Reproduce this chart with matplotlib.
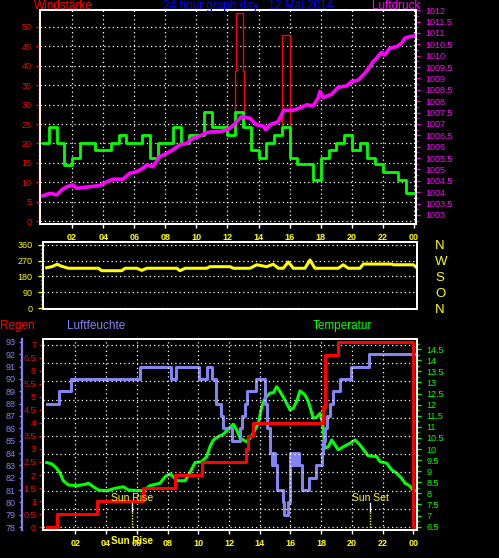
import matplotlib
matplotlib.use('Agg')
import matplotlib.pyplot as plt
import matplotlib.transforms as mtransforms
from matplotlib.ticker import MultipleLocator, FormatStrFormatter
import numpy as np

# ---------------- data ----------------
hour_ticks = [2, 4, 6, 8, 10, 12, 14, 16, 18, 20, 22, 24]
hour_labels = ['02', '04', '06', '08', '10', '12', '14', '16', '18', '20', '22', '00']

# wind (green, step) and gust (red, step)
wind_t = [0.1, 0.5, 1.0, 1.5, 2.0, 2.5, 3.5, 4.5, 5.0, 5.5, 6.5, 7.0, 7.5, 8.5, 9.0, 9.5,
          10.5, 11.0, 12.0, 12.5, 13.0, 13.5, 14.0, 14.5, 15.0, 15.5, 16.0, 16.5, 17.5,
          18.0, 18.5, 19.0, 19.5, 20.0, 20.5, 21.0, 21.5, 22.0, 23.0, 23.5, 24.05]
wind_v = [20.2, 24.1, 20.2, 14.5, 16.3, 20.2, 18.3, 20.2, 22.2, 20.2, 22.2, 16.3, 20.2, 24.1,
          20.2, 22.2, 28.0, 24.1, 22.2, 28.0, 24.1, 18.3, 16.3, 20.2, 22.2, 24.1, 16.3, 14.6,
          10.6, 16.3, 18.3, 20.2, 22.2, 18.3, 20.2, 16.3, 14.6, 12.7, 10.6, 7.1, 7.1]
gust_t = [0.1, 0.5, 1.0, 1.5, 2.0, 2.5, 3.5, 4.5, 5.0, 5.5, 6.5, 7.0, 7.5, 8.5, 9.0, 9.5,
          10.5, 11.0, 12.0, 12.47, 12.53, 13.0, 13.07, 13.5, 14.0, 14.5, 15.0, 15.5, 16.05,
          16.5, 17.5, 18.0, 18.5, 19.0, 19.5, 20.0, 20.5, 21.0, 21.5, 22.0, 23.0, 23.5, 24.05]
gust_v = [20.2, 24.1, 20.2, 14.5, 16.3, 20.2, 18.3, 20.2, 22.2, 20.2, 22.2, 16.3, 20.2, 24.1,
          20.2, 22.2, 28.0, 24.1, 22.2, 38.7, 53.5, 38.7, 24.1, 18.3, 16.3, 20.2, 22.2, 48.0,
          16.3, 14.6, 10.6, 16.3, 18.3, 20.2, 22.2, 18.3, 20.2, 16.3, 14.6, 12.7, 10.6, 7.1, 7.1]

# pressure (magenta)
p_t = [0.12, 0.57, 1.02, 1.34, 1.66, 2.05, 2.30, 3.14, 3.78, 4.23, 4.63, 5.28, 5.71, 6.16,
       6.55, 6.81, 7.19, 7.64, 8.09, 8.48, 8.93, 9.38, 9.77, 10.22, 10.67, 11.06, 11.51,
       11.96, 12.34, 12.58, 12.9, 13.44, 13.87, 14.29, 14.47, 14.72, 15.26, 15.62, 16.22,
       16.65, 17.08, 17.51, 17.83, 17.94, 18.15, 18.69, 19.12, 19.66, 19.98, 20.41, 20.84,
       21.16, 21.37, 21.59, 21.91, 22.12, 22.44, 22.88, 23.2, 23.42, 23.73, 24.05]
p_v = [1003.84, 1003.95, 1003.88, 1004.1, 1004.24, 1004.32, 1004.17, 1004.24, 1004.29,
       1004.46, 1004.57, 1004.57, 1004.83, 1004.9, 1005.05, 1005.2, 1005.12, 1005.56,
       1005.71, 1005.86, 1006.08, 1006.15, 1006.37, 1006.47, 1006.62, 1006.66, 1006.66,
       1006.74, 1006.91, 1007.1, 1007.32, 1007.25, 1006.96, 1006.91, 1006.74, 1006.96,
       1007.1, 1007.6, 1007.6, 1007.7, 1007.84, 1007.8, 1008.13, 1008.42, 1008.16, 1008.3,
       1008.61, 1008.67, 1008.86, 1008.93, 1009.23, 1009.52, 1009.74, 1009.89, 1010.15,
       1010.03, 1010.33, 1010.4, 1010.55, 1010.77, 1010.84, 1010.87]

# wind direction (yellow)
d_t = [0.14, 0.47, 0.83, 1.05, 1.55, 3.5, 3.72, 5.02, 5.24, 6.0, 6.32, 6.65, 8.6, 8.81,
       9.14, 10.55, 10.76, 12.07, 12.28, 13.37, 13.8, 14.45, 14.88, 15.21, 15.53, 15.86,
       16.18, 16.94, 17.27, 17.59, 19.11, 19.43, 19.76, 20.52, 20.73, 22.58, 22.69, 23.99, 24.14]
d_v = [230, 236, 250, 240, 227, 227, 213, 213, 227, 227, 215, 227, 227, 213, 227, 227, 236,
       236, 227, 227, 247, 236, 250, 227, 227, 263, 227, 227, 274, 227, 227, 247, 227, 227,
       251, 251, 247, 247, 236]
dir_ticks = [360, 270, 180, 90, 0]
dir_labels = ['N', 'W', 'S', 'O', 'N']

# humidity (blue, step)
h_t = [0.14, 0.96, 1.72, 6.21, 8.21, 8.53, 10.05, 10.59, 10.91, 11.15, 11.46, 11.59, 12.18,
       12.72, 12.87, 13.04, 13.2, 13.76, 14.34, 14.5, 14.67, 14.8, 14.9, 15.0, 15.1, 15.49,
       15.6, 15.82, 15.97, 16.1, 16.2, 16.35, 16.45, 16.55, 16.73, 17.22, 17.66, 18.03,
       18.12, 18.22, 18.35, 18.57, 18.74, 19.22, 19.92, 21.13, 24.14]
h_v = [88, 89, 90, 91, 90, 91, 90, 91, 90, 88, 87, 86, 85, 86, 87, 88, 89, 90, 88, 86, 84,
       83, 84, 83, 81, 80, 79, 80, 84, 83, 84, 83, 84, 83, 81, 82, 83, 84, 85, 86, 87, 88,
       89, 90, 91, 92, 92]

# rain (red, step)
r_t = [0.14, 0.83, 3.4, 6.39, 8.49, 10.26, 13.09, 13.26, 13.54, 18.13, 18.24, 19.11, 23.99, 24.14]
r_v = [0.0, 0.5, 1.0, 1.5, 2.0, 2.5, 3.0, 3.5, 4.0, 4.6, 6.6, 7.1, 0.0, 0.0]

# temperature (green)
t_t = [0.14, 0.47, 0.79, 1.01, 1.22, 1.55, 2.09, 2.63, 2.85, 3.17, 3.5, 4.05, 4.59, 5.13,
       5.45, 6.43, 6.86, 7.51, 7.84, 8.16, 8.38, 8.6, 9.14, 9.46, 9.79, 10.22, 10.55, 10.76,
       10.98, 11.3, 11.63, 12.07, 12.28, 12.5, 12.72, 12.93, 13.15, 13.37, 13.58, 13.91,
       14.13, 14.34, 14.67, 14.89, 15.1, 15.32, 15.64, 15.97, 16.18, 16.4, 16.62, 16.94,
       17.16, 17.48, 17.7, 17.92, 18.09, 18.24, 18.46, 18.68, 19.11, 19.43, 19.87, 20.2,
       20.52, 20.85, 21.06, 21.61, 21.82, 22.26, 22.58, 22.91, 23.23, 23.45, 23.77, 23.99, 24.14]
t_v = [9.39, 9.33, 9.13, 8.91, 8.57, 8.38, 8.35, 8.41, 8.46, 8.3, 8.15, 8.12, 8.23, 8.3,
       8.15, 8.12, 8.35, 8.46, 8.75, 8.88, 8.75, 8.57, 8.57, 8.94, 9.39, 9.43, 9.66, 10.1,
       10.41, 10.56, 10.67, 10.98, 11.12, 10.86, 10.49, 10.41, 10.33, 10.49, 10.71, 11.16,
       11.91, 12.29, 12.52, 12.54, 12.81, 12.59, 12.21, 11.76, 11.84, 12.14, 12.62, 12.44,
       12.14, 11.39, 11.43, 11.61, 11.19, 10.03, 10.1, 10.41, 9.96, 10.1, 10.26, 10.41,
       10.18, 9.88, 9.69, 9.66, 9.43, 9.36, 9.06, 8.91, 8.68, 8.46, 8.33, 8.12, 8.12]

sun_rise = 5.69
sun_set = 21.17

# ---------------- style ----------------
RED = '#ff0000'
GREEN = '#00ff00'
MAG = '#ff00ff'
YEL = '#ffff00'
BLUE = '#8484f0'
TITLE_BLUE = '#0000ff'
plt.rcParams['font.family'] = ['Liberation Sans Narrow', 'Liberation Sans', 'DejaVu Sans']

W, H = 499, 558
fig = plt.figure(figsize=(W / 100, H / 100), dpi=100)
fig.patch.set_facecolor('black')


def pax(l, t, r, b):
    return fig.add_axes([l / W, 1 - b / H, (r - l) / W, (b - t) / H])


GRID = dict(color='white', linestyle=(0, (1, 2.4)), linewidth=0.9)


def base(ax):
    ax.patch.set_visible(False)
    for s in ax.spines.values():
        s.set_color('white')
        s.set_linewidth(1.3)


def xstyle(ax):
    ax.set_xticks(hour_ticks, hour_labels)
    ax.tick_params(axis='x', colors='white', labelcolor=YEL, length=3, width=1,
                   labelsize=6.5, pad=3.5)
    for lbl in ax.get_xticklabels():
        lbl.set_fontweight('bold')


def ftext(x, y, s, color, size=8.5, ha='left'):
    fig.text(x / W, 1 - y / H, s, color=color, fontsize=size, ha=ha, va='center')


# ---------------- top panel ----------------
ax1 = pax(40, 10, 416, 224)
base(ax1)
ax1.set_xlim(-0.064, 24.13)
ax1.set_ylim(-0.77, 54.38)
xstyle(ax1)
ax1.set_yticks(np.arange(0, 51, 5))
ax1.yaxis.set_minor_locator(MultipleLocator(1))
ax1.tick_params(axis='y', which='major', colors=RED, labelsize=6.5, length=3, width=1, pad=3)
ax1.tick_params(axis='y', which='minor', colors=RED, length=1.5, width=1)
ax1.grid(True, which='major', **GRID)
ax1.plot(gust_t, gust_v, drawstyle='steps-post', color=RED, lw=1.0, zorder=2)
ax1.plot(wind_t, wind_v, drawstyle='steps-post', color=GREEN, lw=2.0, zorder=3)

ax1p = ax1.twinx()
base(ax1p)
ax1p.set_ylim(1002.6, 1012.01)
ax1p.set_yticks(np.arange(1003, 1012.01, 0.5))
ax1p.yaxis.set_major_formatter(FormatStrFormatter('%g'))
ax1p.yaxis.set_minor_locator(MultipleLocator(0.25))
ax1p.tick_params(axis='y', which='major', colors=MAG, labelsize=6.5, length=3, width=1, pad=4)
ax1p.tick_params(axis='y', which='minor', colors=MAG, length=1.5, width=1)
ax1p.plot(p_t, p_v, color=MAG, lw=2.6)

ftext(34, 6, 'Windstärke', RED)
ftext(248, 6, '24 hour graph day : 12 Mai 2014', TITLE_BLUE, ha='center')
ftext(372, 6, 'Luftdruck', MAG)

# ---------------- middle panel ----------------
ax2 = pax(43, 242, 417, 309)
base(ax2)
ax2.spines['left'].set_color(YEL)
ax2.set_xlim(-0.1, 24.23)
ax2.set_ylim(-5.7, 377)
ax2.set_xticks([])
ax2.set_yticks([0, 90, 180, 270, 360])
ax2.yaxis.set_minor_locator(MultipleLocator(22.5))
ax2.tick_params(axis='y', which='major', colors=YEL, labelsize=6.5, length=3.5, width=1, pad=4)
ax2.tick_params(axis='y', which='minor', colors=YEL, length=1.5, width=1)
ax2.yaxis.grid(True, **GRID)
ax2.plot(d_t, d_v, color=YEL, lw=2.2)

ax2r = ax2.twinx()
base(ax2r)
ax2r.set_ylim(-5.7, 377)
ax2r.set_yticks(dir_ticks, dir_labels)
ax2r.tick_params(axis='y', length=0, labelcolor=YEL, labelsize=9.5, pad=13)

# ---------------- bottom panel ----------------
ax3 = pax(43, 339, 417, 530)
ax3t = ax3.twinx()
ax3h = ax3.twinx()
for a in (ax3, ax3t, ax3h):
    base(a)
ax3t.set_zorder(1)
ax3h.set_zorder(2)
ax3.set_zorder(3)

ax3.set_xlim(-0.1, 24.23)
ax3.set_ylim(-0.115, 7.23)
xstyle(ax3)
ax3.set_yticks(np.arange(0, 7.01, 0.5))
ax3.yaxis.set_major_formatter(FormatStrFormatter('%g'))
ax3.yaxis.set_minor_locator(MultipleLocator(0.25))
ax3.tick_params(axis='y', which='major', colors=RED, labelsize=6.5, length=3, width=1, pad=2)
ax3.tick_params(axis='y', which='minor', colors=RED, length=1.5, width=1)
ax3.xaxis.grid(True, **GRID)
for v in np.linspace(0, 7, 11):
    ax3.axhline(v, **GRID)

ax3t.set_ylim(6.35, 14.96)
ax3t.set_yticks(np.arange(6.5, 14.51, 0.5))
ax3t.yaxis.set_major_formatter(FormatStrFormatter('%g'))
ax3t.yaxis.set_minor_locator(MultipleLocator(0.25))
ax3t.tick_params(axis='y', which='major', colors=GREEN, labelsize=6.5, length=3, width=1, pad=4)
ax3t.tick_params(axis='y', which='minor', colors=GREEN, length=1.5, width=1)

ax3h.set_ylim(77.76, 93.24)
ax3h.yaxis.tick_left()
ax3h.yaxis.set_label_position('left')
ax3h.spines['right'].set_visible(False)
ax3h.spines['top'].set_visible(False)
ax3h.spines['bottom'].set_visible(False)
ax3h.spines['left'].set_position(('outward', 15))
ax3h.spines['left'].set_color(BLUE)
ax3h.spines['left'].set_linewidth(1.6)
ax3h.set_yticks(np.arange(78, 93.1, 1))
ax3h.yaxis.set_minor_locator(MultipleLocator(0.5))
ax3h.tick_params(axis='y', which='major', colors=BLUE, labelsize=6.5, length=2.5, width=1, pad=2)
ax3h.tick_params(axis='y', which='minor', colors=BLUE, length=1.5, width=1)

ax3t.plot(t_t, t_v, color=GREEN, lw=2.2)
ax3h.plot(h_t, h_v, drawstyle='steps-post', color=BLUE, lw=2.2)
ax3.plot(r_t, r_v, drawstyle='steps-post', color=RED, lw=2.2)

trans = mtransforms.blended_transform_factory(ax3.transData, ax3.transAxes)
for t, name, below in ((sun_rise, 'Sun Rise', True), (sun_set, 'Sun Set', False)):
    ax3.plot([t, t], [0.10, 0.14], color='white', lw=1.0, transform=trans)
    ax3.plot([t, t], [0.0, 0.10], color=YEL, lw=1.0, linestyle=(0, (1, 1)), transform=trans)
    ax3.text(t, 0.167, name, color=YEL, fontsize=7.5, ha='center', va='center', transform=trans)
    if below:
        ax3.text(t, -0.058, name, color=YEL, fontsize=7, fontweight='bold', ha='center',
                 va='center', transform=trans, clip_on=False)

ftext(0, 326, 'Regen', RED)
ftext(67, 326, 'Luftfeuchte', BLUE)
ftext(313, 326, 'Temperatur', GREEN)

fig.savefig('out.png', dpi=100, facecolor='black')
